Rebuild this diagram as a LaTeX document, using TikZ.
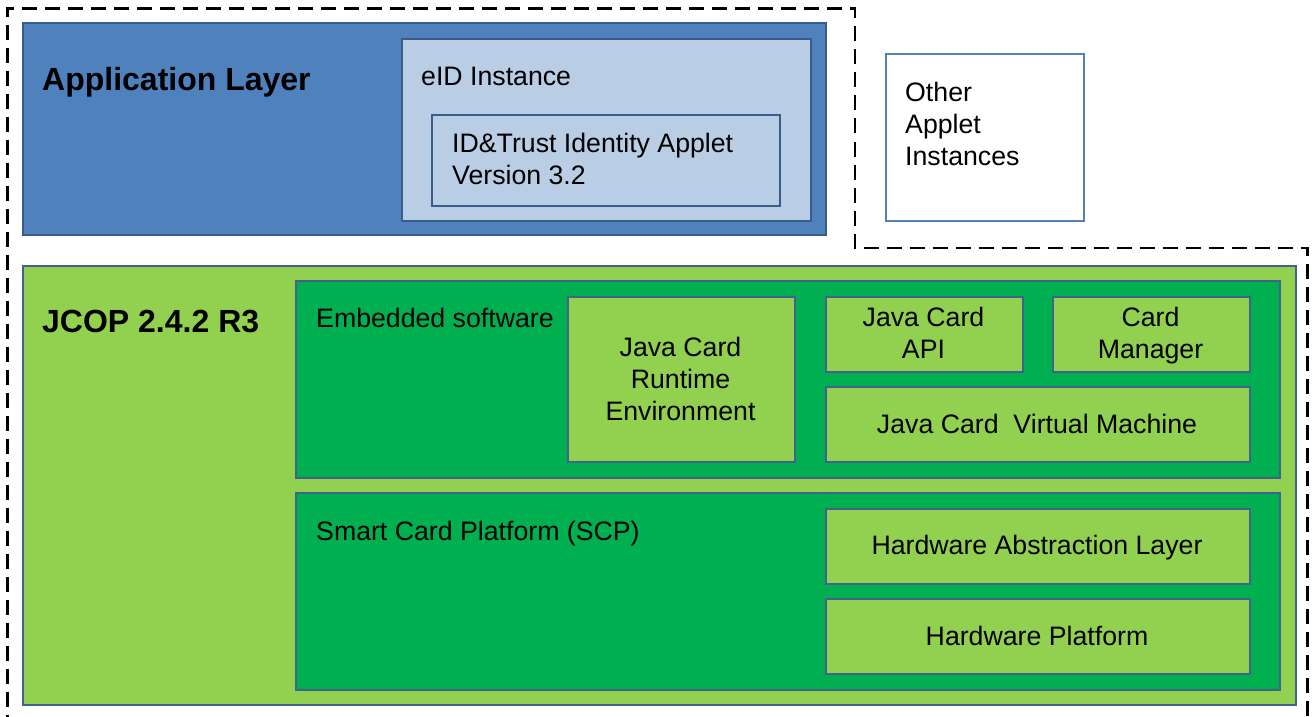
\documentclass[tikz,border=0pt]{standalone}
\usepackage{fontspec}
\setmainfont{Liberation Sans}
\definecolor{appblue}{HTML}{4F81BD}
\definecolor{appedge}{HTML}{385D8A}
\definecolor{lightblue}{HTML}{B9CDE5}
\definecolor{lightgreen}{HTML}{92D050}
\definecolor{darkgreen}{HTML}{00B050}
\definecolor{greenedge}{HTML}{41628F}
\newcommand{\fs}{\fontsize{26.7}{32}\selectfont}
\newcommand{\fb}{\fontsize{32}{38}\selectfont\bfseries}
\tikzset{
  box/.style={draw=#1, line width=2pt, inner sep=0pt, anchor=north west},
  lbl/.style={font=\fs, anchor=base west, inner sep=0pt, align=left},
  ctr/.style={font=\fs, anchor=base, inner sep=0pt, align=center},
  ttl/.style={font=\fb, anchor=base west, inner sep=0pt},
}
\begin{document}
\begin{tikzpicture}[x=1pt,y=-1pt]
\useasboundingbox (0,0) rectangle (1312,717);
\fill[white] (0,0) rectangle (1312,717);
% application layer
\node[box=appedge, fill=appblue, minimum width=803pt, minimum height=212pt] (app) at (22,22) {};
\node[box=appedge, fill=lightblue, minimum width=409pt, minimum height=182pt] (eid) at (401,38) {};
\node[box=appedge, fill=lightblue, minimum width=348pt, minimum height=91pt] (idt) at (431,114) {};
\node[box=appblue, fill=white, minimum width=198pt, minimum height=167pt] (other) at (885,53) {};
\node[ttl] (appT) at (42,91) {Application Layer};
\node[lbl] (eidT) at (421,85) {eID Instance};
\node[lbl] (idtT) at (452,184) {ID\&Trust Identity Applet\\Version 3.2};
\node[lbl] (otherT) at (905,165) {Other\\Applet\\Instances};
% JCOP
\node[box=greenedge, fill=lightgreen, minimum width=1273pt, minimum height=439pt] (jcop) at (22,265) {};
\node[box=greenedge, fill=darkgreen, minimum width=984pt, minimum height=197pt] (emb) at (295,280) {};
\node[box=greenedge, fill=lightgreen, minimum width=227pt, minimum height=165pt] (jcre) at (567,296) {};
\node[box=greenedge, fill=lightgreen, minimum width=197pt, minimum height=75pt] (api) at (825,296) {};
\node[box=greenedge, fill=lightgreen, minimum width=197pt, minimum height=75pt] (cm) at (1052,296) {};
\node[box=greenedge, fill=lightgreen, minimum width=424pt, minimum height=75pt] (jcvm) at (825,386) {};
\node[box=greenedge, fill=darkgreen, minimum width=984pt, minimum height=197pt] (scp) at (295,492) {};
\node[box=greenedge, fill=lightgreen, minimum width=424pt, minimum height=75pt] (hal) at (825,508) {};
\node[box=greenedge, fill=lightgreen, minimum width=424pt, minimum height=75pt] (hwp) at (825,598) {};
\node[ttl] (jcopT) at (42,332) {JCOP 2.4.2 R3};
\node[lbl] (embT) at (316,327) {Embedded software};
\node[ctr] (jcreT) at (680.5,420) {Java Card\\Runtime\\Environment};
\node[ctr] (apiT) at (923.5,358) {Java Card\\API};
\node[ctr] (cmT) at (1150.5,358) {Card\\Manager};
\node[ctr] (jcvmT) at (1037,433) {Java Card\ \ Virtual Machine};
\node[lbl] (scpT) at (316,540) {Smart Card Platform (SCP)};
\node[ctr] (halT) at (1037,554) {Hardware Abstraction Layer};
\node[ctr] (hwpT) at (1037,645) {Hardware Platform};
% dashed outline
\begin{scope}
\clip (0,0) rectangle (1312,717);
\coordinate (d1) at (7.5,730);
\coordinate (d2) at (7.5,8.5);
\coordinate (d3) at (855,8.5);
\coordinate (d4) at (855,248);
\coordinate (d5) at (1307.5,248);
\coordinate (d6) at (1307.5,730);
\draw[line width=2.5pt, dash pattern=on 15pt off 8pt] (d1) -- (d2) -- (d3) -- (d4) -- (d5) -- (d6);
\end{scope}
\end{tikzpicture}
\end{document}
